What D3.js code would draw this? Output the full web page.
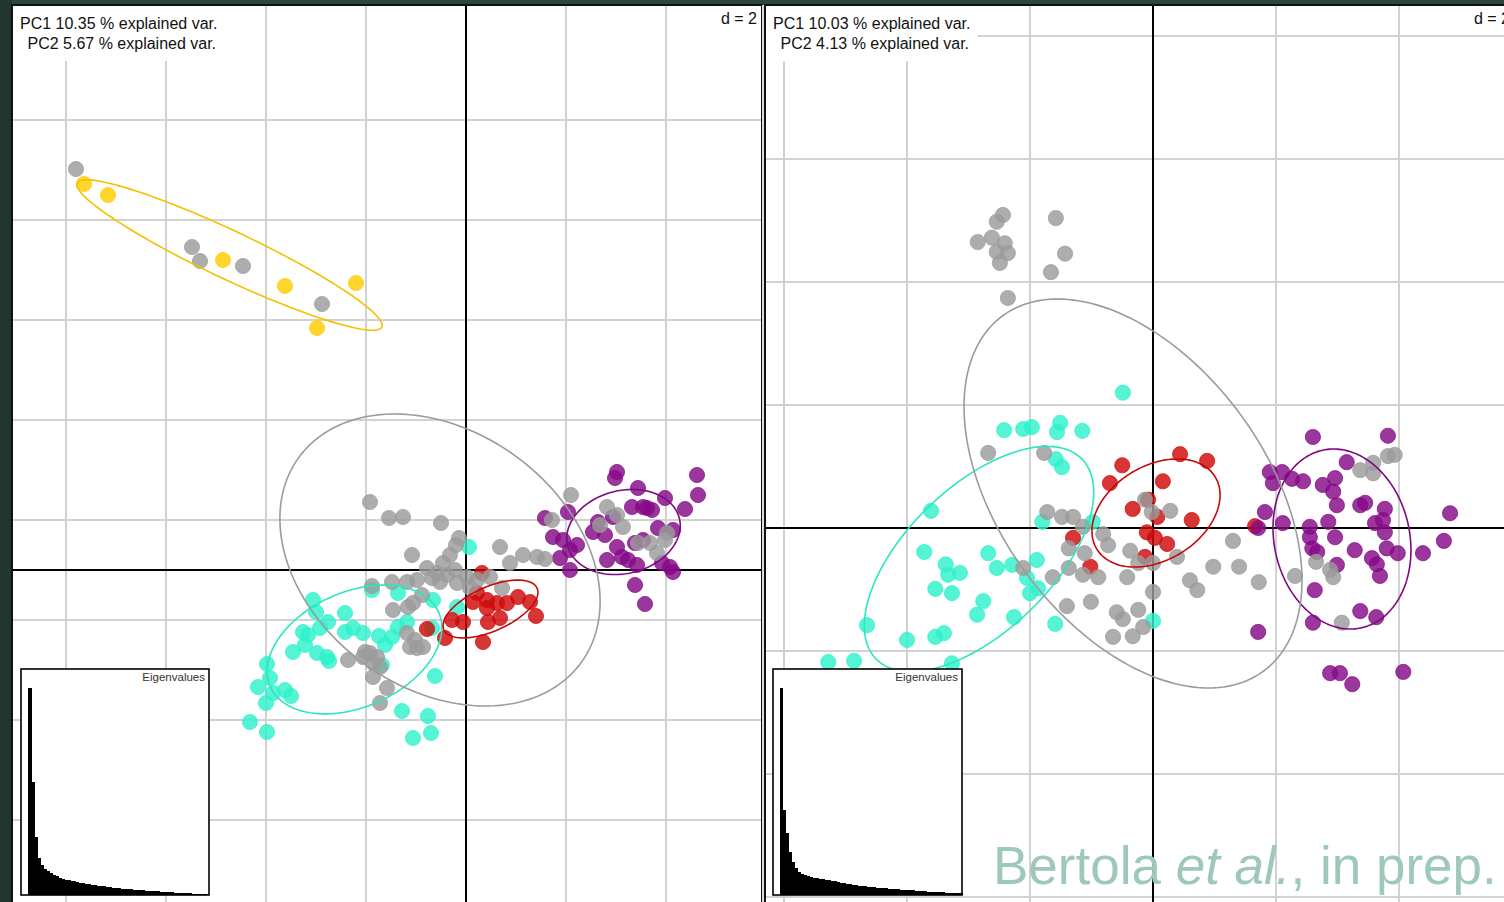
<!DOCTYPE html>
<html>
<head>
<meta charset="utf-8">
<script src="https://cdn.jsdelivr.net/npm/d3@7"></script>
<style>
  html, body { margin: 0; padding: 0; background: #2c463d; overflow: hidden; }
  svg { display: block; }
  text { font-family: "Liberation Sans", Arial, sans-serif; }
</style>
</head>
<body>
<svg id="chart" width="1504" height="902"></svg>
<script>
// ---------------- data (PC coordinates) ----------------
const groups = ["cyan", "red", "purple", "gray", "yellow"];
const groupColors = { cyan: "#2ef2cc", red: "#d00a0a", purple: "#850a88", gray: "#9b9b9b", yellow: "#ffcc00" };

// Analysis A (left)
const leftTitles = ["PC1 10.35 % explained var.", "PC2 5.67 % explained var."];
const leftGridX = [-8, -6, -4, -2, 2, 4];
const leftGridY = [9, 7, 5, 3, 1, -1, -3, -5];
const leftYellow = [[-7.64,7.72],[-7.16,7.50],[-4.86,6.20],[-3.62,5.68],[-2.20,5.74],[-2.98,4.84]];
const leftGray = [
  [-7.80,8.02],[-5.48,6.46],[-5.32,6.18],[-4.46,6.08],[-2.88,5.32],
  [-1.92,1.36],[-1.54,1.04],[-1.26,1.06],[-0.50,0.94],[-0.14,0.64],[-0.20,0.50],[-1.08,0.30],[-0.32,0.30],
  [-0.46,0.14],[0.68,0.46],[0.88,0.14],[1.14,0.30],[1.42,0.26],[1.58,0.22],[1.72,1.00],[2.10,1.50],
  [-0.78,0.04],[-0.58,-0.06],[-0.98,-0.20],[-1.18,-0.24],[-1.48,-0.24],[-1.88,-0.32],[-0.18,-0.26],
  [0.02,-0.14],[0.22,-0.20],[0.48,-0.14],[0.72,-0.36],[0.08,-0.36],[-0.52,-0.24],[-0.88,-0.50],
  [-1.06,-0.66],[-1.16,-0.74],[-1.46,-0.80],[-1.18,-1.26],[-1.02,-1.40],[-0.98,-1.56],[-0.86,-1.54],
  [-1.12,-1.54],[-1.92,-1.66],[-1.78,-1.74],[-2.06,-1.74],[-2.36,-1.80],[-2.02,-1.64],[-1.86,-1.86],
  [-1.72,-1.94],[-1.86,-2.14],[-1.58,-2.36],[-1.72,-2.66],[-0.68,-0.16],[-0.22,0.00],[-0.38,-0.10],
  [2.82,1.26],[3.02,1.10],[2.68,0.90],[3.14,0.86],[3.44,0.54],[3.68,0.54],[3.82,0.34],[4.02,0.74],[3.98,0.60]
];
const leftCyan = [
  [0.06,0.46],[-1.36,-0.46],[-0.66,-0.60],[-0.18,-0.74],[-1.18,-1.04],[-1.36,-1.14],[-0.68,-1.16],
  [-3.06,-0.60],[-3.00,-0.84],[-2.42,-0.86],[-2.76,-1.04],[-2.92,-1.16],[-3.26,-1.24],[-3.16,-1.30],
  [-3.22,-1.50],[-3.46,-1.64],[-2.98,-1.66],[-2.78,-1.74],[-2.74,-1.82],[-2.42,-1.24],[-2.26,-1.16],
  [-2.06,-1.26],[-1.74,-1.32],[-1.62,-1.50],[-1.48,-1.34],[-1.68,-1.90],[-3.98,-1.88],[-3.92,-2.16],
  [-4.16,-2.34],[-3.62,-2.40],[-3.50,-2.52],[-3.86,-2.46],[-4.00,-2.66],[-0.62,-2.12],[-1.28,-2.82],
  [-0.76,-2.92],[-4.32,-3.04],[-3.98,-3.24],[-1.06,-3.36],[-0.70,-3.26],[-1.88,-0.40]
];
const leftRed = [
  [0.32,-0.06],[0.22,-0.46],[0.14,-0.64],[0.42,-0.60],[0.42,-0.76],[0.62,-0.66],[0.82,-0.66],[1.04,-0.54],
  [1.28,-0.64],[1.40,-0.92],[0.68,-0.96],[0.44,-1.04],[-0.06,-1.04],[-0.28,-1.00],[-0.42,-1.36],[0.34,-1.44],
  [-0.78,-1.18]
];
const leftPurple = [
  [3.02,1.96],[2.98,1.84],[4.62,1.90],[4.64,1.50],[4.38,1.22],[3.44,1.64],[3.98,1.44],[3.32,1.26],[3.54,1.26],
  [3.72,1.20],[3.62,1.24],[3.84,0.84],[4.14,0.80],[2.94,1.06],[2.64,0.96],[2.54,0.76],[2.78,0.70],[3.02,0.46],
  [2.82,0.20],[3.12,0.26],[3.24,0.20],[3.42,0.10],[4.08,0.06],[4.14,-0.04],[3.92,0.14],[3.54,0.60],[3.38,0.54],
  [2.04,1.16],[1.58,1.04],[1.74,0.66],[1.94,0.60],[2.22,0.50],[2.08,0.40],[1.88,0.24],[2.08,0.00],
  [3.38,-0.30],[3.58,-0.68]
];
// ellipses: [cx, cy, semi-major, semi-minor, angle in degrees]
const leftEllipses = {
  cyan: [-2.23, -1.59, 1.84, 1.15, 23.8],
  red: [0.49, -0.78, 1.02, 0.44, 24.1],
  purple: [3.15, 0.76, 1.15, 0.83, 13.7],
  gray: [-0.52, 0.20, 3.49, 2.57, -36],
  yellow: [-4.73, 6.30, 3.37, 0.48, -25.3]
};
const leftEigen = [10.35,5.67,2.9,1.85,1.5,1.32,1.18,1.08,1.0,0.93,0.87,0.82,0.77,0.74,0.71,0.68,0.65,0.62,0.6,0.57,
  0.54,0.52,0.49,0.47,0.45,0.43,0.41,0.39,0.37,0.35,0.33,0.32,0.31,0.29,0.28,0.27,0.26,0.24,0.23,0.22,
  0.21,0.2,0.19,0.18,0.17,0.16,0.15,0.14,0.13,0.12,0.11,0.1,0.09,0.08,0.08,0.07,0.06,0.05,0.05,0.04];

// Analysis B (right)
const rightTitles = ["PC1 10.03 % explained var.", "PC2 4.13 % explained var."];
const rightGridX = [-6, -4, -2, 2, 4];
const rightGridY = [8, 6, 4, 2, -2, -4, -6];
const rightGray = [
  [-2.44,5.09],[-2.54,4.98],[-2.85,4.65],[-2.62,4.72],[-2.41,4.63],[-2.54,4.49],[-2.36,4.47],[-2.49,4.31],
  [-1.58,5.04],[-1.43,4.46],[-1.66,4.16],[-2.36,3.74],
  [-2.68,1.22],[-1.77,1.22],[-1.72,0.26],[-1.48,0.18],[-1.30,0.18],[-1.14,0.02],[-0.81,-0.10],[-0.73,-0.28],
  [-1.37,-0.33],[-1.11,-0.41],[-0.37,-0.37],[-0.13,0.46],[-0.02,0.26],[0.28,0.28],[-2.11,-0.65],[-1.63,-0.80],
  [-1.37,-0.65],[-1.14,-0.76],[-0.89,-0.80],[-0.42,-0.80],[-0.24,-0.57],[0.00,-0.57],[0.39,-0.47],[0.00,-1.04],
  [-1.40,-1.27],[-1.01,-1.20],[-0.59,-1.37],[-0.49,-1.48],[-0.24,-1.33],[-0.16,-1.61],[-0.65,-1.77],[-0.33,-1.76],
  [1.30,-0.21],[0.60,-0.85],[0.72,-1.01],[0.98,-0.63],[1.40,-0.63],[1.72,-0.88],[2.31,-0.78],[2.65,-0.55],
  [2.88,-0.68],[2.93,-0.80],[3.07,-1.54],[3.37,0.94],[3.58,1.06],[3.58,0.89],[3.82,1.17],[3.93,1.19]
];
const rightCyan = [
  [-0.49,2.20],[-2.42,1.59],[-2.11,1.61],[-1.97,1.64],[-1.51,1.71],[-1.56,1.56],[-1.15,1.58],[-1.58,1.12],
  [-1.48,0.99],[-3.61,0.28],[-1.80,0.10],[-0.98,0.10],[-3.72,-0.39],[-2.68,-0.41],[-3.37,-0.59],[-2.54,-0.65],
  [-3.14,-0.73],[-3.33,-0.76],[-2.29,-0.60],[-1.89,-0.52],[-2.05,-0.81],[-3.54,-0.99],[-3.27,-1.06],[-2.00,-1.06],
  [-1.87,-0.98],[-2.76,-1.19],[-2.86,-1.41],[-2.26,-1.45],[-1.59,-1.56],[-4.65,-1.58],[-4.00,-1.82],[-3.54,-1.77],
  [-3.40,-1.71],[-5.28,-2.18],[-4.86,-2.16],[-3.27,-2.20],[0.00,-1.51]
];
const rightRed = [
  [-0.50,1.02],[-0.70,0.73],[0.44,1.20],[0.88,1.09],[0.16,0.76],[-0.33,0.31],[-0.08,0.46],[0.07,0.18],
  [0.63,0.13],[-0.10,-0.07],[0.03,-0.16],[0.23,-0.26],[-0.13,-0.47],[-1.30,-0.16],[-1.02,-0.63],[1.66,0.03]
];
const rightPurple = [
  [2.60,1.48],[3.82,1.50],[1.90,0.91],[2.10,0.91],[1.95,0.73],[2.26,0.80],[2.44,0.76],[3.15,1.07],[2.96,0.81],
  [2.76,0.70],[2.93,0.59],[2.99,0.37],[3.37,0.37],[3.45,0.41],[3.77,0.31],[4.83,0.24],[1.82,0.26],[2.11,0.08],
  [1.71,0.00],[2.55,0.02],[2.85,0.10],[2.55,-0.15],[2.96,-0.15],[3.61,0.08],[3.74,0.13],[3.77,-0.07],
  [2.59,-0.33],[2.67,-0.39],[3.28,-0.36],[3.80,-0.33],[3.98,-0.41],[4.39,-0.41],[4.73,-0.21],[3.56,-0.49],
  [3.64,-0.59],[3.69,-0.78],[2.99,-0.60],[2.63,-1.01],[3.37,-1.35],[3.63,-1.45],[2.60,-1.54],[1.71,-1.69],
  [2.88,-2.36],[3.04,-2.36],[3.24,-2.54],[4.07,-2.34]
];
const rightEllipses = {
  cyan: [-2.829, -0.504, 2.333, 1.179, 44.1],
  red: [0.049, 0.244, 1.127, 0.766, 31.4],
  purple: [3.073, -0.179, 1.478, 1.102, -77.8],
  gray: [-0.325, 0.561, 3.584, 2.169, -53.75]
};
const rightEigen = [10.03,4.13,3.0,2.1,1.6,1.3,1.12,1.0,0.95,0.91,0.87,0.84,0.82,0.79,0.76,0.74,0.72,0.69,0.66,0.63,
  0.6,0.58,0.55,0.52,0.5,0.47,0.45,0.43,0.42,0.4,0.39,0.37,0.36,0.34,0.33,0.32,0.31,0.29,0.28,0.27,
  0.26,0.25,0.24,0.23,0.22,0.21,0.2,0.18,0.17,0.15,0.15,0.14,0.14,0.13,0.13,0.12,0.12,0.11,0.11,0.1,0.1];

const gridLabel = "d = 2";
const eigenLabel = "Eigenvalues";
const creditParts = [["Bertola ", "normal"], ["et al.", "italic"], [", in prep.", "normal"]];

// ---------------- drawing ----------------
const svg = d3.select("#chart");
svg.append("rect").attr("width", 1504).attr("height", 902).attr("fill", "#2c463d");
svg.append("rect").attr("x", 0).attr("y", 0).attr("width", 12).attr("height", 902).attr("fill", "#22362f");

function panel(cfg) {
  const g = svg.append("g");
  const clipId = "clip-" + cfg.id;
  svg.append("defs").append("clipPath").attr("id", clipId)
    .append("rect").attr("x", cfg.left).attr("y", cfg.top).attr("width", cfg.right - cfg.left).attr("height", cfg.bottom - cfg.top);

  const x = d3.scaleLinear().domain(cfg.xDomain).range([cfg.left, cfg.right]);
  const y = d3.scaleLinear().domain(cfg.yDomain).range([cfg.top, cfg.bottom]);

  const body = g.append("g").attr("clip-path", `url(#${clipId})`);
  body.append("rect").attr("x", cfg.left).attr("y", cfg.top)
    .attr("width", cfg.right - cfg.left).attr("height", cfg.bottom - cfg.top).attr("fill", "#fff");

  // grid
  body.selectAll(".gx").data(cfg.gridX).join("line")
    .attr("x1", d => x(d)).attr("x2", d => x(d)).attr("y1", cfg.top).attr("y2", cfg.bottom)
    .attr("stroke", "#d2d2d2").attr("stroke-width", 2);
  body.selectAll(".gy").data(cfg.gridY).join("line")
    .attr("y1", d => y(d)).attr("y2", d => y(d)).attr("x1", cfg.left).attr("x2", cfg.right)
    .attr("stroke", "#d2d2d2").attr("stroke-width", 2);

  // origin axes
  body.append("line").attr("x1", x(0)).attr("x2", x(0)).attr("y1", cfg.top).attr("y2", cfg.bottom)
    .attr("stroke", "#000").attr("stroke-width", 2);
  body.append("line").attr("y1", y(0)).attr("y2", y(0)).attr("x1", cfg.left).attr("x2", cfg.right)
    .attr("stroke", "#000").attr("stroke-width", 2);

  // points
  cfg.order.forEach(name => {
    const pts = cfg.points[name];
    if (!pts) return;
    body.append("g").selectAll("circle").data(pts).join("circle")
      .attr("cx", d => x(d[0])).attr("cy", d => y(d[1])).attr("r", 7.6)
      .attr("fill", groupColors[name]).attr("fill-opacity", 0.82)
      .attr("stroke", groupColors[name]).attr("stroke-opacity", 0.9).attr("stroke-width", 0.8);
  });

  // ellipses
  const line = d3.line().curve(d3.curveLinearClosed);
  Object.entries(cfg.ellipses).forEach(([name, e]) => {
    const [cx, cy, a, b, ang] = e;
    const t = ang * Math.PI / 180;
    const ring = d3.range(0, 360, 2).map(k => {
      const s = k * Math.PI / 180;
      const ex = a * Math.cos(s), ey = b * Math.sin(s);
      return [x(cx + ex * Math.cos(t) - ey * Math.sin(t)), y(cy + ex * Math.sin(t) + ey * Math.cos(t))];
    });
    body.append("path").attr("d", line(ring)).attr("fill", "none")
      .attr("stroke", d3.color(groupColors[name]).darker(name === "gray" ? 0 : 0.15)).attr("stroke-width", 1.6);
  });

  // title box
  const tg = body.append("g");
  const tRect = tg.append("rect").attr("fill", "#fff");
  const t1 = tg.append("text").attr("x", cfg.left + 7).attr("y", cfg.top + 23).attr("font-size", 16).attr("fill", "#111").text(cfg.titles[0]);
  tg.append("text").attr("x", cfg.left + 14.5).attr("y", cfg.top + 42.5).attr("font-size", 16).attr("fill", "#111").text(cfg.titles[1]);
  const bb = t1.node().getBBox();
  tRect.attr("x", cfg.left).attr("y", cfg.top).attr("width", bb.x + bb.width + 7 - cfg.left).attr("height", 55);

  // grid size label
  const dg = body.append("g");
  const dRect = dg.append("rect").attr("fill", "#fff");
  const dt = dg.append("text").attr("x", cfg.right - 4).attr("y", cfg.top + 17.5).attr("text-anchor", "end")
    .attr("font-size", 16).attr("fill", "#111").text(gridLabel);
  const db = dt.node().getBBox();
  dRect.attr("x", db.x - 5).attr("y", cfg.top).attr("width", db.width + 10).attr("height", 25);

  // eigenvalue inset
  const ins = cfg.inset;
  const ig = body.append("g");
  ig.append("rect").attr("x", ins.x0).attr("y", ins.y0).attr("width", ins.x1 - ins.x0).attr("height", ins.y1 - ins.y0)
    .attr("fill", "#fff").attr("stroke", "#000").attr("stroke-width", 1.6);
  const bx = d3.scaleBand().domain(d3.range(cfg.eigen.length)).range([ins.b0, ins.b1]).paddingInner(0);
  const by = d3.scaleLinear().domain([0, d3.max(cfg.eigen)]).range([ins.y1, ins.y1 - 207]);
  ig.append("g").attr("shape-rendering", "crispEdges").selectAll("rect").data(cfg.eigen).join("rect")
    .attr("x", (d, i) => bx(i)).attr("width", bx.bandwidth() + 1)
    .attr("y", d => by(d)).attr("height", d => by(0) - by(d)).attr("fill", "#000");
  ig.append("text").attr("x", ins.x1 - 4).attr("y", ins.y0 + 12).attr("text-anchor", "end")
    .attr("font-size", 11.5).attr("fill", "#333").text(eigenLabel);

  // frame
  g.append("rect").attr("x", cfg.left - 1).attr("y", cfg.top - 1)
    .attr("width", cfg.right - cfg.left + 2).attr("height", cfg.bottom - cfg.top + 2)
    .attr("fill", "none").attr("stroke", "#111").attr("stroke-width", 2);
  return { x, y, g };
}

panel({
  id: "a", left: 13, right: 761, top: 6, bottom: 910,
  xDomain: [(13 - 466) / 50, (761 - 466) / 50], yDomain: [(570 - 6) / 50, (570 - 910) / 50],
  gridX: leftGridX, gridY: leftGridY, titles: leftTitles,
  order: ["cyan", "red", "purple", "gray", "yellow"],
  points: { cyan: leftCyan, red: leftRed, purple: leftPurple, gray: leftGray, yellow: leftYellow },
  ellipses: leftEllipses, eigen: leftEigen,
  inset: { x0: 21, x1: 209, y0: 669, y1: 895, b0: 28, b1: 206 }
});

// thin light gap between the two panels
svg.append("rect").attr("x", 762).attr("y", 5).attr("width", 3).attr("height", 897).attr("fill", "#dcdcdc");

panel({
  id: "b", left: 766, right: 1514, top: 6, bottom: 910,
  xDomain: [(766 - 1153) / 61.5, (1514 - 1153) / 61.5], yDomain: [(528 - 6) / 61.5, (528 - 910) / 61.5],
  gridX: rightGridX, gridY: rightGridY, titles: rightTitles,
  order: ["cyan", "red", "purple", "gray"],
  points: { cyan: rightCyan, red: rightRed, purple: rightPurple, gray: rightGray },
  ellipses: rightEllipses, eigen: rightEigen,
  inset: { x0: 773, x1: 962, y0: 669, y1: 895, b0: 779.5, b1: 962 }
});

// credit line
const credit = svg.append("text").attr("x", 993).attr("y", 884).attr("font-size", 53).attr("fill", "#9ec9b9");
creditParts.forEach(([s, st]) => credit.append("tspan").attr("font-style", st).text(s));
</script>
</body>
</html>
